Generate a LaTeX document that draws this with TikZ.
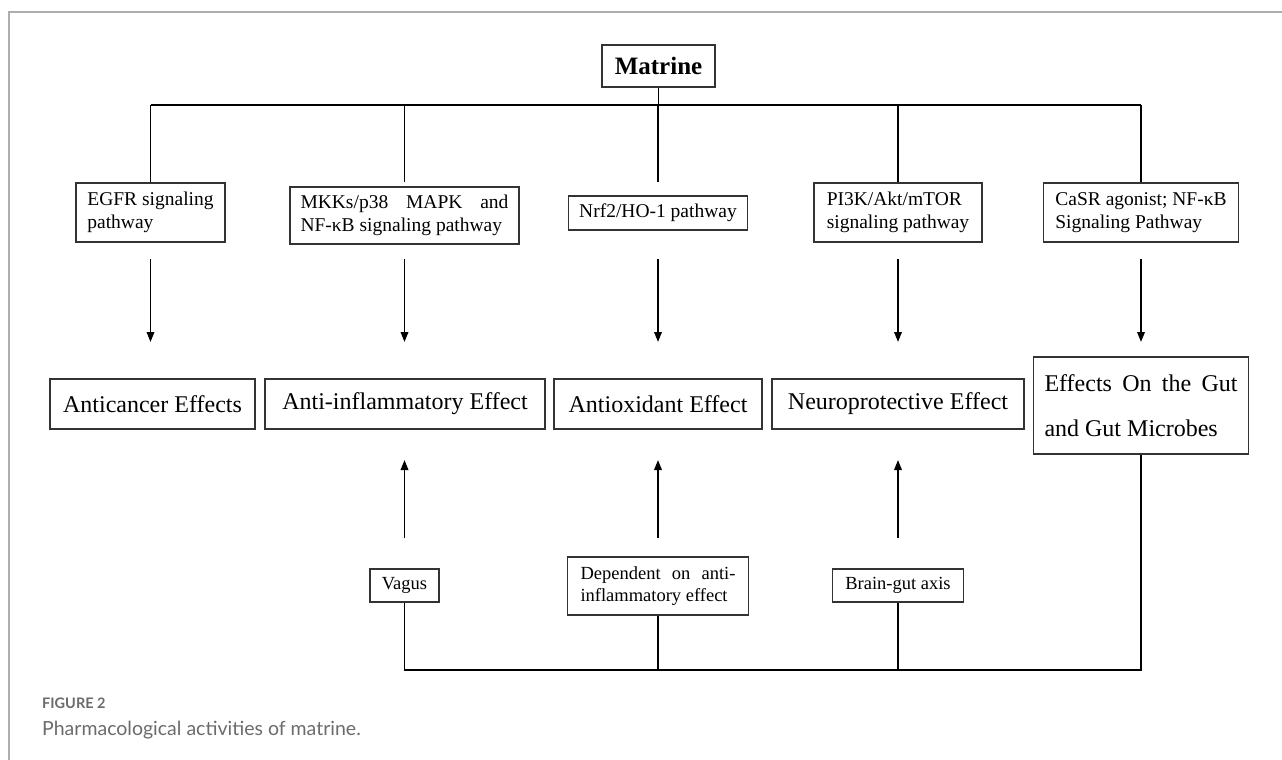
\documentclass[tikz,border=0pt]{standalone}
\usepackage{fontspec}
\setmainfont{Liberation Serif}
\newfontfamily\capfont{Lato}
\usetikzlibrary{arrows.meta}
\begin{document}
\begin{tikzpicture}[x=1pt,y=-1pt,
  box/.style={draw=black!80, line width=1.3pt, fill=white, inner sep=0pt, align=center},
  pw/.style={font=\fontsize{19.5}{23}\selectfont, align=left},
  eff/.style={font=\fontsize{24}{28}\selectfont},
  low/.style={font=\fontsize{18.5}{22}\selectfont, align=left},
  con/.style={line width=1.8pt, draw=black},
  arr/.style={con, -{Triangle[length=10pt,width=7.5pt]}},
  frame/.style={draw=black!32, line width=1.5pt},
  captxt/.style={anchor=base west, inner sep=0pt, text=black!58}]
\useasboundingbox (0,0) rectangle (1282,760);
\draw[frame] (9,760) -- (9,12) -- (1282,12);

% top
\node[box, minimum width=113pt, minimum height=42pt, font=\fontsize{25}{28}\selectfont\bfseries] (matrine) at (658.5,66) {Matrine};

% pathway row
\node[box, pw, minimum width=149pt, minimum height=59pt] (egfr) at (150.5,212.5) {EGFR signaling\\pathway};
\node[box, pw, minimum width=229pt, minimum height=57pt] (mkk) at (404.5,215.5) {\hbox to 208pt{MKKs/p38\hfill MAPK\hfill and}\\NF-κB signaling pathway};
\node[box, pw, minimum width=179pt, minimum height=34pt] (nrf) at (658,213) {Nrf2/HO-1 pathway};
\node[box, pw, minimum width=168pt, minimum height=59pt] (pik) at (898,212.5) {PI3K/Akt/mTOR\\signaling pathway};
\node[box, pw, minimum width=195pt, minimum height=59pt] (casr) at (1141,212.5) {CaSR agonist; NF-κB\\Signaling Pathway};

% effects row
\node[box, eff, minimum width=205pt, minimum height=50pt] (anticancer) at (152.5,404) {Anticancer Effects};
\node[box, eff, minimum width=280pt, minimum height=50pt] (antiinf) at (405,404) {Anti-inflammatory Effect};
\node[box, eff, minimum width=208pt, minimum height=50pt] (antiox) at (658,404) {Antioxidant Effect};
\node[box, eff, minimum width=252pt, minimum height=50pt] (neuro) at (898,404) {Neuroprotective Effect};
\node[box, font=\fontsize{24}{45}\selectfont, align=left, minimum width=215pt, minimum height=97pt] (gut) at (1141,405.5) {\hbox to 193pt{Effects\hfill On\hfill the\hfill Gut}\\and Gut Microbes};

% bottom row
\node[box, low, minimum width=69pt, minimum height=33pt] (vagus) at (404.5,585.5) {Vagus};
\node[box, low, minimum width=181pt, minimum height=58pt] (dep) at (658,586) {\hbox to 155pt{Dependent\hfill on\hfill anti-}\\inflammatory effect};
\node[box, low, minimum width=131pt, minimum height=33pt] (brain) at (898,585.5) {Brain-gut axis};

% coordinates
\coordinate (busL) at (150.5,105);
\coordinate (busR) at (1141,105);
\coordinate (dtop) at (0,259);
\coordinate (dtip) at (0,342);
\coordinate (ubot) at (0,538);
\coordinate (utip) at (0,460);
\coordinate (bbus) at (0,670);

% top connectors
\draw[con] (matrine.south) -- (matrine.south |- busL);
\draw[con] (busL) -- (busR);
\foreach \n in {egfr,mkk,nrf,pik,casr}
  \draw[con] (\n.north |- busL) -- (\n.north |- egfr.north);

% down arrows
\foreach \n in {egfr,mkk,nrf,pik,casr}
  \draw[arr] (\n.south |- dtop) -- (\n.south |- dtip);

% up arrows
\foreach \n in {vagus,dep,brain}
  \draw[arr] (\n.north |- ubot) -- (\n.north |- utip);

% bottom connectors
\draw[con] (vagus.south) -- (vagus.south |- bbus) -- (gut.south |- bbus) -- (gut.south);
\draw[con] (dep.south) -- (dep.south |- bbus);
\draw[con] (brain.south) -- (brain.south |- bbus);

% caption
\node[captxt, font=\capfont\fontsize{14.5}{16}\selectfont\bfseries] (fig) at (42,708) {FIGURE 2};
\node[captxt, font=\capfont\fontsize{19.5}{22}\selectfont] (cap) at (42,735) {Pharmacological activities of matrine.};
\end{tikzpicture}
\end{document}
